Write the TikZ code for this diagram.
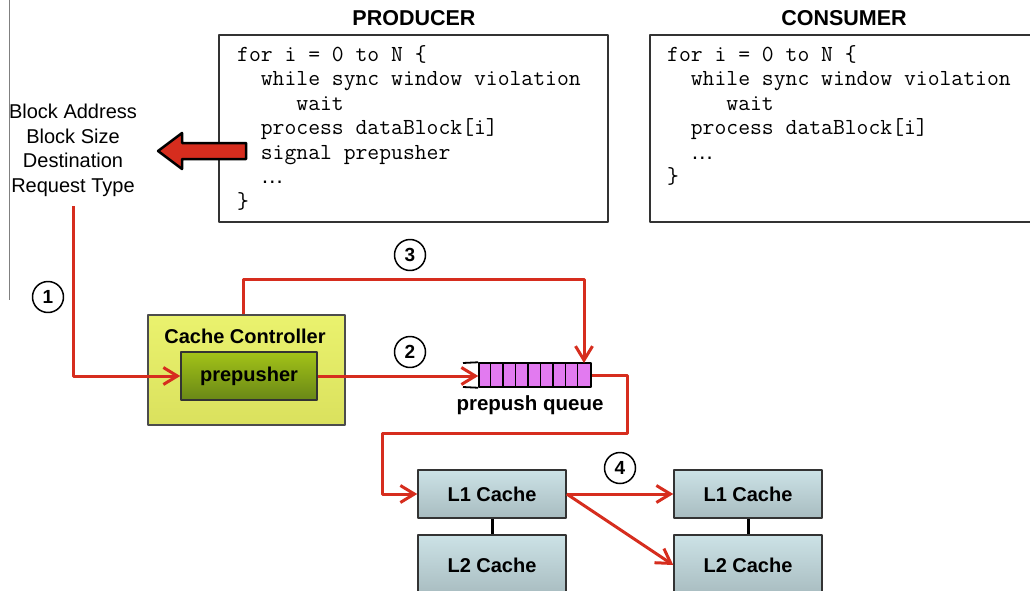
\documentclass[tikz,border=0pt]{standalone}
\usepackage{fontspec}
\setmainfont{Liberation Sans}
\usetikzlibrary{arrows.meta}
\definecolor{flowred}{RGB}{214,45,30}
\definecolor{ctrlyellow}{RGB}{234,242,110}
\definecolor{pushgreen}{RGB}{140,180,30}
\definecolor{qmagenta}{RGB}{226,122,240}
\definecolor{cachetop}{RGB}{204,226,230}
\definecolor{cachebot}{RGB}{168,188,192}
\begin{document}
\begin{tikzpicture}[x=1pt, y=-1pt, line join=round,
  flow/.style={draw=flowred, line width=3pt, -{Straight Barb[length=14pt,width=17pt]}},
  codebox/.style={draw=black!80, line width=1.5pt, minimum height=187},
  code/.style={anchor=north west, align=left, inner sep=0pt, font=\fontsize{23}{24.5}\selectfont\ttfamily},
  title/.style={font=\fontsize{21.5}{21.5}\selectfont\bfseries},
  stepnum/.style={circle, draw, line width=1.5pt, fill=white, minimum size=31, inner sep=0pt, font=\fontsize{19}{19}\selectfont\bfseries},
  cachebox/.style={rectangle, draw=black!80, line width=1.5pt, top color=cachetop, bottom color=cachebot, minimum width=148, font=\fontsize{20}{20}\selectfont\bfseries}]
\useasboundingbox (0,0) rectangle (1030,591);
\clip (0,0) rectangle (1030,591);
% cot ben trai
\draw[gray, line width=1pt] (9,0) -- (9,300);
% hai khung ma nguon
\node[title] (prodtitle) at (414,18) {PRODUCER};
\node[title] (constitle) at (844,18) {CONSUMER};
\node[codebox, minimum width=389] (producer) at (413.5,128.5) {};
\node[codebox, minimum width=420] (consumer) at (860,128.5) {};
\node[code] (prodcode) at (237,44) {\strut for i = 0 to N \{\\
\phantom{xx}while sync window violation\\
\phantom{xxxxx}wait\\
\phantom{xx}process dataBlock[i]\\
\phantom{xx}signal prepusher\\
\phantom{xx}{\rmfamily …}\\
\}};
\node[code] (conscode) at (667,44) {\strut for i = 0 to N \{\\
\phantom{xx}while sync window violation\\
\phantom{xxxxx}wait\\
\phantom{xx}process dataBlock[i]\\
\phantom{xx}{\rmfamily …}\\
\}};
% mui ten do lon
\draw[draw=black, line width=2.5pt, fill=flowred] (246,143) -- (182,143) -- (182,133) -- (158,151)
  -- (182,169) -- (182,159) -- (246,159) -- cycle;
\node[align=center, font=\fontsize{20}{24.5}\selectfont] (reqinfo) at (73,150.5)
  {Block Address\\Block Size\\Destination\\Request Type};
% bo dieu khien cache
\node[rectangle, draw=black!70, line width=1.5pt, top color=ctrlyellow, bottom color=ctrlyellow!85!olive,
  minimum width=197, minimum height=110] (ctrl) at (246.5,370) {};
\node[font=\fontsize{20}{20}\selectfont\bfseries] (ctrltitle) at (245,336) {Cache Controller};
\node[rectangle, draw=black!80, line width=1.5pt, top color=pushgreen!80!yellow, bottom color=pushgreen!75!black,
  minimum width=136, minimum height=48, font=\fontsize{20}{20}\selectfont\bfseries] (prepusher) at (249,376) {prepusher};
% hang doi
\node[rectangle, draw=black, line width=1.5pt, fill=qmagenta, minimum width=112, minimum height=24,
  inner sep=0pt] (queue) at (535,375) {};
\foreach \i in {1,...,8}
\draw[line width=1.3pt] ([xshift=\i*12.44pt]queue.north west) -- ([xshift=\i*12.44pt]queue.south west);
\coordinate (qtop) at (463,363);
\coordinate (qbot) at (463,387);
\draw[line width=1.8pt] (qtop) -- (queue.north west);
\draw[line width=1.8pt] (qbot) -- (queue.south west);
\node[font=\fontsize{20.5}{20.5}\selectfont\bfseries] (qlabel) at (530,405) {prepush queue};
% cac cache
\node[cachebox, minimum height=48] (L1a) at (492,494) {L1 Cache};
\node[cachebox, minimum height=60] (L2a) at (492,565) {L2 Cache};
\node[cachebox, minimum height=48] (L1b) at (748,494) {L1 Cache};
\node[cachebox, minimum height=60] (L2b) at (748,565) {L2 Cache};
\draw[line width=3pt] (L1a) -- (L2a);
\draw[line width=3pt] (L1b) -- (L2b);
% cac buoc
\node[stepnum] (s1) at (48,297) {1};
\node[stepnum] (s2) at (410,352) {2};
\node[stepnum] (s3) at (410,255) {3};
\node[stepnum] (s4) at (620,468) {4};
\coordinate (qin) at (584,363);
\coordinate (bend) at (382,433);
\draw[flow] ([yshift=-6pt]reqinfo.south) |- (prepusher.west);
\draw[flow] (prepusher.east) -- (prepusher.east -| queue.west);
\draw[flow] (ctrl.north -| 243,0) -- (243,279) -| (qin);
\draw[flow] (queue.east) -- ++(36,0) |- (bend) |- (L1a.west);
\draw[flow] (L1a.east) -- (L1b.west);
\draw[flow] (L1a.east) -- (L2b.west);
\end{tikzpicture}
\end{document}
